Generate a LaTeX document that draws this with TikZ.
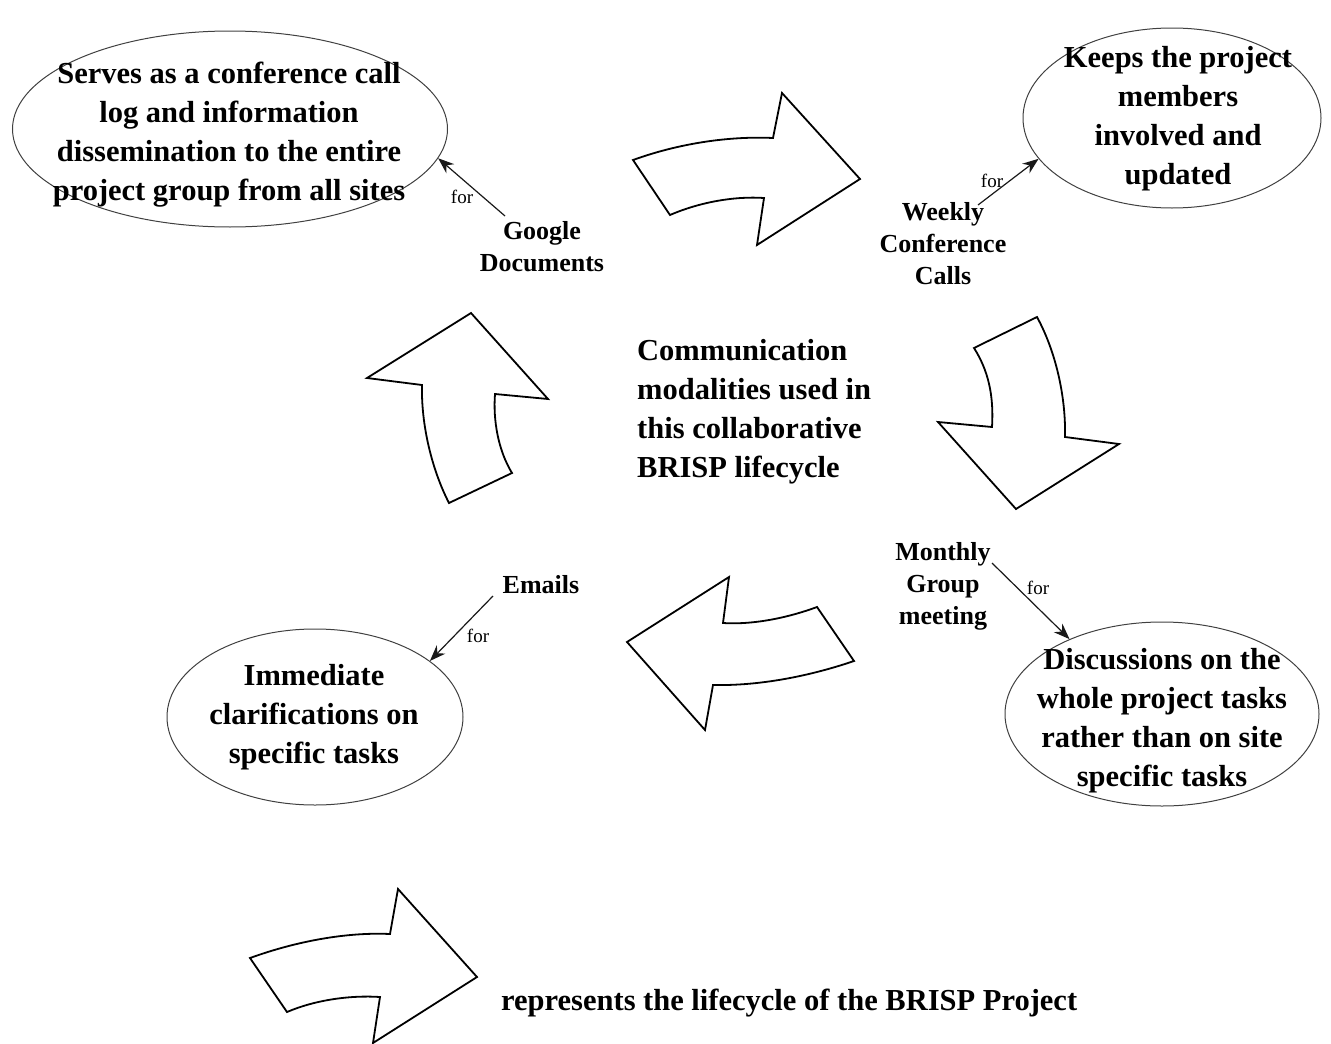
\documentclass[tikz,border=0pt]{standalone}
\usepackage{fontspec}
\setmainfont{Liberation Serif}
\usetikzlibrary{arrows.meta,shapes.geometric}
\tikzset{
  bubble/.style={draw=black!75, line width=1pt, ellipse, inner sep=0pt},
  bigtext/.style={font=\fontsize{30.5}{39}\selectfont\bfseries, align=center, inner sep=0pt},
  tag/.style={font=\fontsize{26}{32}\selectfont\bfseries, align=center, inner sep=0pt},
  fortext/.style={font=\fontsize{19}{22}\selectfont, inner sep=0pt},
  flow/.style={draw=black, line width=1.8pt, line join=miter, fill=white},
  link/.style={draw=black!90, line width=1.2pt, -{Stealth[length=16pt,width=12pt]}}
}
\begin{document}
\begin{tikzpicture}[x=1pt,y=-1pt]
\useasboundingbox (0,0) rectangle (1331,1044);

% outcome bubbles
\node[bubble, minimum width=435pt, minimum height=196pt] (serve) at (230,129) {};
\node[bubble, minimum width=298pt, minimum height=180pt] (keep) at (1172,118) {};
\node[bubble, minimum width=296pt, minimum height=176pt] (clarify) at (315,717) {};
\node[bubble, minimum width=314pt, minimum height=184pt] (discuss) at (1162,714) {};
\node[bigtext] (serve-txt) at (229,135) {Serves as a conference call\\log and information\\dissemination to the entire\\project group from all sites};
\node[bigtext] (keep-txt) at (1178,119) {Keeps the project\\members\\involved and\\updated};
\node[bigtext] (clarify-txt) at (314,717) {Immediate\\clarifications on\\specific tasks};
\node[bigtext] (discuss-txt) at (1162,721) {Discussions on the\\whole project tasks\\rather than on site\\specific tasks};

% centre text
\node[bigtext, align=left, anchor=west] (centre) at (637,412) {Communication\\modalities used in\\this collaborative\\BRISP lifecycle};

% lifecycle arrows
\path[flow] (633,160) .. controls (680,143) and (730,136) .. (773,138) -- (782,93) -- (860,179)
  -- (757,245) -- (764,198) .. controls (735,196) and (700,202) .. (670,215) -- cycle;
\path[flow] (974,348) -- (1037,317) .. controls (1055,350) and (1066,395) .. (1065,437) -- (1119,444)
  -- (1016,509) -- (938,422) -- (992,427) .. controls (994,395) and (988,370) .. (974,348) -- cycle;
\path[flow] (627,642) -- (729,577) -- (723,623) .. controls (755,625) and (790,617) .. (817,607)
  -- (854,661) .. controls (810,676) and (760,686) .. (713,685) -- (705,730) -- cycle;
\path[flow] (471,313) -- (548,399) -- (495,394) .. controls (493,420) and (498,450) .. (512,473)
  -- (449,503) .. controls (432,470) and (421,425) .. (422,385) -- (367,378) -- cycle;

% modalities
\node[tag] (gdoc) at (542,247) {Google\\Documents};
\node[tag] (weekly) at (943,244) {Weekly\\Conference\\Calls};
\node[tag] (monthly) at (943,586) {Monthly\\Group\\meeting};
\node[tag] (emails) at (541,585) {Emails};
\coordinate (gdoc-tail) at (505,216);
\coordinate (weekly-tail) at (978,205);
\coordinate (monthly-tail) at (992,563);
\coordinate (emails-tail) at (493,596);
\draw[link] (gdoc-tail) -- (serve.-8);
\draw[link] (weekly-tail) -- (keep.197);
\draw[link] (monthly-tail) -- (discuss.141);
\draw[link] (emails-tail) -- (clarify.26);
\node[fortext] (for1) at (462,197) {for};
\node[fortext] (for2) at (992,181) {for};
\node[fortext] (for3) at (1038,588) {for};
\node[fortext] (for4) at (478,636) {for};

% legend
\path[flow] (250,958) .. controls (297,941) and (347,932) .. (390,934) -- (398,889) -- (477,977)
  -- (373,1043) -- (380,997) .. controls (350,995) and (315,1000) .. (287,1012) -- cycle;
\node[font=\fontsize{30.5}{36}\selectfont\bfseries, anchor=west, inner sep=0pt] (legend) at (501,1003) {represents the lifecycle of the BRISP Project};
\end{tikzpicture}
\end{document}
